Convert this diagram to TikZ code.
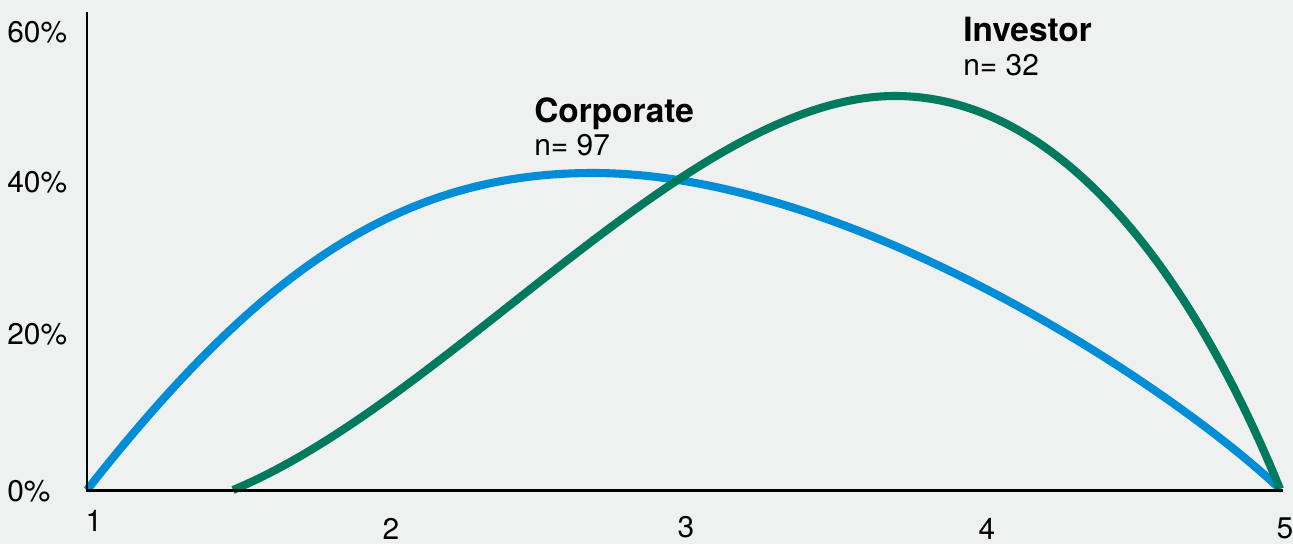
\documentclass[tikz,border=0pt]{standalone}
\usepackage{fontspec}
\setmainfont{TeX Gyre Heros}
\usetikzlibrary{positioning}
\definecolor{bgcol}{RGB}{239,241,240}
\definecolor{corpblue}{RGB}{0,141,216}
\definecolor{invgreen}{RGB}{0,122,94}
\tikzset{
  axisline/.style={line width=1.7pt, black},
  curveline/.style={line width=4.6pt},
  ticklab/.style={anchor=base, inner sep=0pt, font=\fontsize{17}{20}\selectfont},
  pctlab/.style={anchor=base west, inner sep=0pt, font=\fontsize{17}{20}\selectfont},
  grouplab/.style={anchor=base west, inner sep=0pt, font=\fontsize{19}{22}\selectfont\bfseries},
  countlab/.style={anchor=base west, inner sep=0pt, font=\fontsize{17}{20}\selectfont}
}
\begin{document}
\begin{tikzpicture}[x=0.02cm, y=-0.02cm]
% Background and Bounding Box
\fill[bgcol] (0,0) rectangle (1293,544);
\useasboundingbox (0,0) rectangle (1293,544);
% Axis Points
\coordinate (ytop) at (87,12);
\coordinate (origin) at (87,490);
\coordinate (xend) at (1283,490);
\coordinate (corppeak) at (593,173);
\coordinate (invstart) at (233,490);
\coordinate (invpeak) at (895,96);
\coordinate (endpt) at (1280,489);
% Corporate Curve
\draw[curveline, corpblue] (origin) .. controls (260,270) and (400,173) .. (corppeak)
   .. controls (850,173) and (1170,385) .. (endpt);
% Investor Curve
\draw[curveline, invgreen] (invstart) .. controls (450,400) and (690,96) .. (invpeak)
   .. controls (1075,96) and (1205,305) .. (endpt);
% Axes
\draw[axisline] (ytop) -- (origin) -- (xend);
% Y Labels
\node[pctlab] (p60) at (7,43) {60\%};
\node[pctlab] (p40) at (7,192) {40\%};
\node[pctlab] (p20) at (7,344) {20\%};
\node[pctlab] (p0) at (7,501) {0\%};
% X Labels
\node[ticklab] (x1) at (94,531) {1};
\node[ticklab] (x2) at (391,539) {2};
\node[ticklab] (x3) at (686,537) {3};
\node[ticklab] (x4) at (987,539) {4};
\node[ticklab] (x5) at (1285,538) {5};
% Group Labels
\node[grouplab] (corp) at (534,122) {Corporate};
\node[countlab] (corpn) at (534,155) {n= 97};
\node[grouplab] (inv) at (963,42) {Investor};
\node[countlab] (invn) at (963,75) {n= 32};
\end{tikzpicture}
\end{document}
